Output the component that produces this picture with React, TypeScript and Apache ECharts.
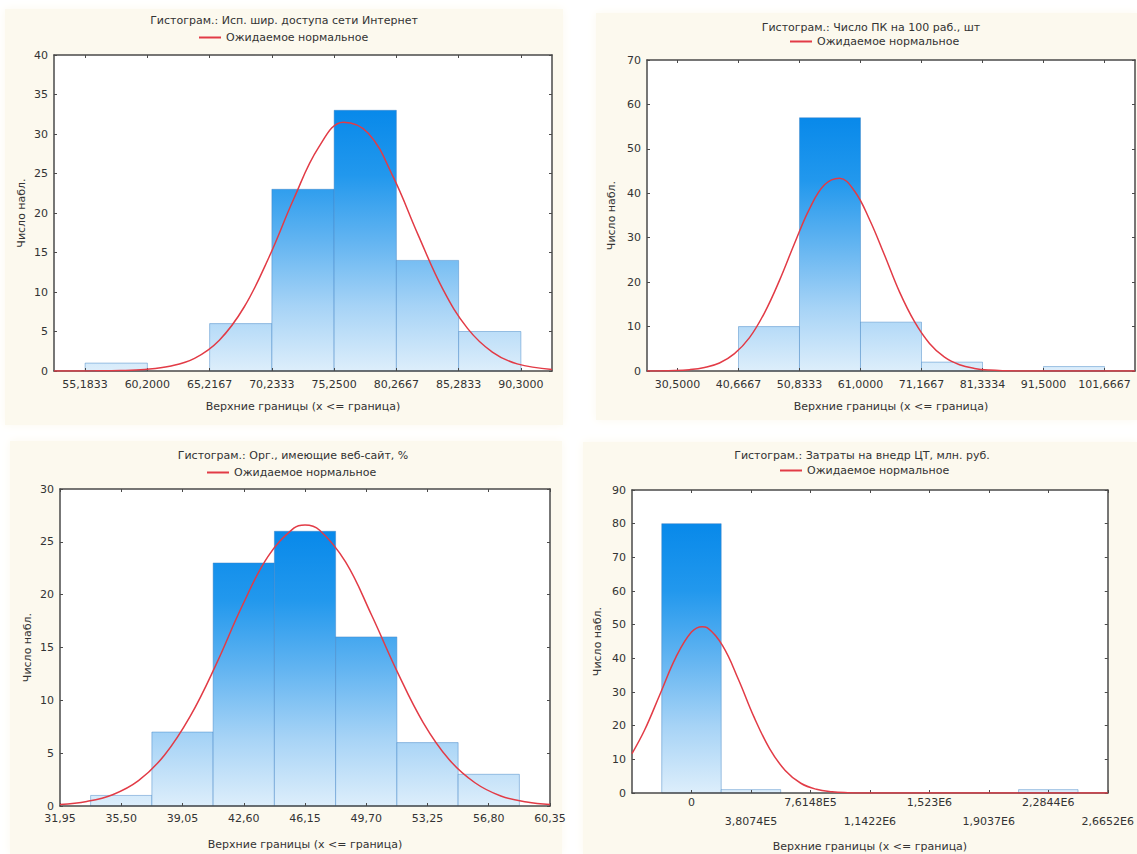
import React, { useEffect, useRef } from 'react';
import * as echarts from 'echarts';

// ---------- Исп. шир. доступа сети Интернет ----------
const internetEdges = [55.1833, 60.2, 65.2167, 70.2333, 75.25, 80.2667, 85.2833, 90.3];
const internetTickLabels = ['55,1833', '60,2000', '65,2167', '70,2333', '75,2500', '80,2667', '85,2833', '90,3000'];
const internetCounts = [1, 0, 6, 23, 33, 14, 5];
const internetNormal = [
  [52.675, 0.0], [56, 0.02], [58, 0.06], [60, 0.2], [62, 0.6], [64, 1.6], [66, 3.9],
  [68, 8.1], [70, 14.4], [72, 21.8], [74, 28.3], [76, 31.5], [78, 30.1], [80, 24.6],
  [82, 17.3], [84, 10.4], [86, 5.4], [88, 2.4], [90, 0.9], [92.808, 0.2],
];

// ---------- Число ПК на 100 раб., шт ----------
const pcEdges = [30.5, 40.6667, 50.8333, 61.0, 71.1667, 81.3334, 91.5, 101.6667];
const pcTickLabels = ['30,5000', '40,6667', '50,8333', '61,0000', '71,1667', '81,3334', '91,5000', '101,6667'];
const pcCounts = [0, 10, 57, 11, 2, 0, 1];
const pcNormal = [
  [25.42, 0.0], [30, 0.1], [32.5, 0.3], [35, 0.8], [37.5, 1.8], [40, 3.9], [42.5, 7.5],
  [45, 13.1], [47.5, 20.4], [50, 28.7], [52.5, 36.5], [55, 41.9], [57.5, 43.4], [60, 40.5],
  [62.5, 34.1], [65, 26.1], [67.5, 17.8], [70, 11.1], [72.5, 6.2], [75, 3.1], [77.5, 1.4],
  [80, 0.58], [82.5, 0.2], [85, 0.07], [90, 0.0], [106.75, 0.0],
];

// ---------- Орг., имеющие веб-сайт, % ----------
const webTicks = [31.95, 35.5, 39.05, 42.6, 46.15, 49.7, 53.25, 56.8, 60.35];
const webTickLabels = ['31,95', '35,50', '39,05', '42,60', '46,15', '49,70', '53,25', '56,80', '60,35'];
const webEdges = [33.725, 37.275, 40.825, 44.375, 47.925, 51.475, 55.025, 58.575];
const webCounts = [1, 7, 23, 26, 16, 6, 3];
const webNormal = [
  [31.95, 0.15], [33.5, 0.43], [35, 1.07], [36.5, 2.4], [38, 4.8], [39.5, 8.5], [41, 13.4],
  [42.5, 18.9], [44, 23.6], [45.5, 26.3], [46.15, 26.6], [47, 26.1], [48.5, 23.1], [50, 18.1],
  [51.5, 12.7], [53, 7.9], [54.5, 4.4], [56, 2.2], [57.5, 0.95], [59, 0.38], [60.35, 0.15],
];

// ---------- Затраты на внедр ЦТ, млн. руб. ----------
const costTicks = [0, 380740, 761480, 1142220, 1522960, 1903700, 2284440, 2665180];
const costTickLabels = ['0', '3,8074E5', '7,6148E5', '1,1422E6', '1,523E6', '1,9037E6', '2,2844E6', '2,6652E6'];
const costEdges = [-190370, 190370, 571110, 951850, 1332590, 1713330, 2094070, 2474810];
const costCounts = [80, 1, 0, 0, 0, 0, 1];
const costNormal = [
  [-380740, 11.7], [-300000, 18.7], [-200000, 29.5], [-100000, 40.3], [0, 47.8],
  [69000, 49.4], [100000, 49.1], [200000, 43.7], [300000, 33.8], [400000, 22.6],
  [500000, 13.2], [600000, 6.7], [700000, 2.9], [800000, 1.1], [900000, 0.37],
  [1000000, 0.1], [1100000, 0.02], [2665180, 0.0],
];

const LEGEND_NAME = 'Ожидаемое нормальное';
const X_NAME = 'Верхние границы (x <= граница)';
const Y_NAME = 'Число набл.';

const FONT = '"DejaVu Sans", "Liberation Sans", sans-serif';
const TEXT = '#333333';
const FRAME = '#4a4a4a';
const CURVE = '#e23b46';
const CREAM = '#fcf9ee';

const barStops = [
  { offset: 0, color: '#ddeefb' },
  { offset: 0.25, color: '#a6d3f6' },
  { offset: 0.5, color: '#62b4f1' },
  { offset: 0.75, color: '#2298ed' },
  { offset: 1, color: '#0889ea' },
];

type Panel = {
  title: string;
  titleAt: [number, number];
  legendAt: [number, number];
  bg: [number, number, number, number];
  grid: { left: number; top: number; width: number; height: number };
  xMin: number;
  xMax: number;
  ticks: number[];
  tickLabels: string[];
  edges: number[];
  counts: number[];
  normal: number[][];
  yMax: number;
  yStep: number;
  xLabelMargin: number;
  xNameGap: number;
  yNameGap: number;
  twoRows?: boolean;
};

const panels: Panel[] = [
  {
    title: 'Гистограм.: Исп. шир. доступа сети Интернет',
    titleAt: [284, 20], legendAt: [199, 32], bg: [5, 9, 558, 416],
    grid: { left: 54, top: 55, width: 498, height: 316 },
    xMin: 52.675, xMax: 92.808,
    ticks: internetEdges, tickLabels: internetTickLabels,
    edges: internetEdges, counts: internetCounts, normal: internetNormal,
    yMax: 40, yStep: 5, xLabelMargin: 7, xNameGap: 30, yNameGap: 27,
  },
  {
    title: 'Гистограм.: Число ПК на 100 раб., шт',
    titleAt: [871, 27], legendAt: [790, 36], bg: [596, 13, 541, 407],
    grid: { left: 647, top: 60, width: 488, height: 311 },
    xMin: 25.4167, xMax: 106.75,
    ticks: pcEdges, tickLabels: pcTickLabels,
    edges: pcEdges, counts: pcCounts, normal: pcNormal,
    yMax: 70, yStep: 10, xLabelMargin: 7, xNameGap: 30, yNameGap: 30,
  },
  {
    title: 'Гистограм.: Орг., имеющие веб-сайт, %',
    titleAt: [293, 455], legendAt: [207, 467], bg: [10, 441, 552, 413],
    grid: { left: 60, top: 489, width: 490, height: 317 },
    xMin: 31.95, xMax: 60.35,
    ticks: webTicks, tickLabels: webTickLabels,
    edges: webEdges, counts: webCounts, normal: webNormal,
    yMax: 30, yStep: 5, xLabelMargin: 6, xNameGap: 33, yNameGap: 27,
  },
  {
    title: 'Гистограм.: Затраты на внедр ЦТ, млн. руб.',
    titleAt: [862, 455], legendAt: [780, 465], bg: [583, 442, 554, 412],
    grid: { left: 632, top: 490, width: 478, height: 303 },
    xMin: -380740, xMax: 2665180,
    ticks: costTicks, tickLabels: costTickLabels,
    edges: costEdges, counts: costCounts, normal: costNormal,
    yMax: 90, yStep: 10, xLabelMargin: 0, xNameGap: 48, yNameGap: 29, twoRows: true,
  },
];

const labelFor = (p: Panel, v: number) => {
  let best = 0;
  p.ticks.forEach((t, i) => {
    if (Math.abs(t - v) < Math.abs(p.ticks[best] - v)) best = i;
  });
  const s = p.tickLabels[best];
  return p.twoRows && best % 2 === 1 ? '\n' + s : s;
};

const makeBars = (maxCount: number) => (_params: any, api: any) => {
  const lo = api.value(0);
  const hi = api.value(1);
  const n = api.value(2);
  if (!n) return null;
  const bl = api.coord([lo, 0]);
  const tr = api.coord([hi, n]);
  const yTop = api.coord([lo, maxCount])[1];
  return {
    type: 'rect',
    shape: { x: bl[0], y: tr[1], width: tr[0] - bl[0], height: bl[1] - tr[1] },
    style: {
      fill: new echarts.graphic.LinearGradient(0, bl[1], 0, yTop, barStops, true),
      stroke: 'rgba(60,128,196,0.45)',
      lineWidth: 1,
    },
  };
};

const buildOption = () => {
  const grid: any[] = [];
  const xAxis: any[] = [];
  const yAxis: any[] = [];
  const series: any[] = [];
  const legend: any[] = [];
  const graphic: any[] = [];
  const frameLine = { show: true, onZero: false, lineStyle: { color: FRAME, width: 1.5 } };
  const tickStyle = { color: FRAME, width: 1 };
  const axisText = { fontFamily: FONT, fontSize: 11, color: TEXT };

  panels.forEach((p, i) => {
    graphic.push({
      type: 'rect', z: -10, silent: true,
      shape: { x: p.bg[0], y: p.bg[1], width: p.bg[2], height: p.bg[3] },
      style: { fill: CREAM, shadowBlur: 10, shadowColor: CREAM },
    });
    graphic.push({
      type: 'text', z: 10, silent: true, x: p.titleAt[0], y: p.titleAt[1],
      style: { text: p.title, fontFamily: FONT, fontSize: 11, fill: TEXT, align: 'center', verticalAlign: 'middle' },
    });

    grid.push({ ...p.grid, show: true, backgroundColor: '#ffffff', borderWidth: 0 });

    xAxis.push({
      type: 'value', gridIndex: i, position: 'bottom', min: p.xMin, max: p.xMax, z: 3,
      axisLine: frameLine,
      axisTick: { show: true, inside: true, length: 3, customValues: p.ticks, lineStyle: tickStyle },
      axisLabel: {
        ...axisText, customValues: p.ticks, margin: p.xLabelMargin, hideOverlap: false,
        lineHeight: p.twoRows ? 19 : 13,
        formatter: (v: number) => labelFor(p, v),
      },
      splitLine: { show: false },
      name: X_NAME, nameLocation: 'middle', nameGap: p.xNameGap, nameTextStyle: axisText,
    });
    xAxis.push({
      type: 'value', gridIndex: i, position: 'top', min: p.xMin, max: p.xMax, z: 3,
      axisLine: frameLine,
      axisTick: { show: true, inside: true, length: 3, customValues: p.ticks, lineStyle: tickStyle },
      axisLabel: { show: false },
      splitLine: { show: false },
    });
    yAxis.push({
      type: 'value', gridIndex: i, position: 'left', min: 0, max: p.yMax, interval: p.yStep, z: 3,
      axisLine: frameLine,
      axisTick: { show: true, inside: true, length: 3, lineStyle: tickStyle },
      axisLabel: { ...axisText, margin: 6 },
      splitLine: { show: false },
      name: Y_NAME, nameLocation: 'middle', nameGap: p.yNameGap, nameTextStyle: axisText,
    });
    yAxis.push({
      type: 'value', gridIndex: i, position: 'right', min: 0, max: p.yMax, interval: p.yStep, z: 3,
      axisLine: frameLine,
      axisTick: { show: true, inside: true, length: 3, lineStyle: tickStyle },
      axisLabel: { show: false },
      splitLine: { show: false },
    });

    const bins = p.counts.map((c, k) => [p.edges[k], p.edges[k + 1], c]);
    series.push({
      type: 'custom', name: 'Число набл.', xAxisIndex: 2 * i, yAxisIndex: 2 * i, z: 2,
      renderItem: makeBars(Math.max(...p.counts)),
      encode: { x: [0, 1], y: 2 },
      data: bins,
    });
    series.push({
      type: 'line', name: LEGEND_NAME, xAxisIndex: 2 * i, yAxisIndex: 2 * i, z: 4,
      data: p.normal, smooth: 0.4, showSymbol: false,
      lineStyle: { color: CURVE, width: 1.5 }, itemStyle: { color: CURVE },
    });

    legend.push({
      data: [LEGEND_NAME], left: p.legendAt[0], top: p.legendAt[1], padding: 0,
      icon: 'rect', itemWidth: 22, itemHeight: 2, selectedMode: false,
      textStyle: { fontFamily: FONT, fontSize: 11, color: TEXT },
    });
  });

  return { animation: false, backgroundColor: '#ffffff', grid, xAxis, yAxis, series, legend, graphic };
};

export default function App() {
  const ref = useRef<HTMLDivElement>(null);
  useEffect(() => {
    if (!ref.current) return;
    const chart = echarts.init(ref.current, undefined, { renderer: 'svg' });
    chart.setOption(buildOption() as any);
    return () => chart.dispose();
  }, []);
  return (
    <div
      ref={ref}
      style={{ position: 'fixed', left: 0, top: 0, width: 1137, height: 854, background: '#ffffff' }}
    />
  );
}
